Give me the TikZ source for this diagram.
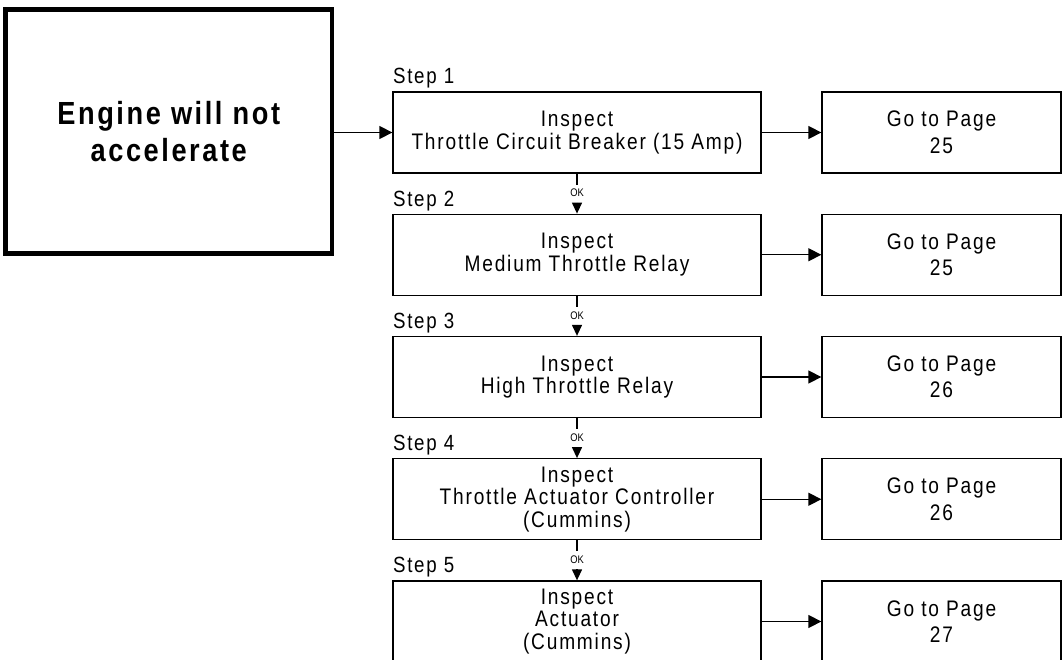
\documentclass[tikz,border=0pt]{standalone}
\usepackage{fontspec}
\setmainfont{Liberation Sans}
\newfontfamily\stepfont{Liberation Sans}[FakeStretch=0.85, LetterSpace=8]
\newfontfamily\bigfont{Liberation Sans}[FakeStretch=0.85, LetterSpace=8]
\newfontfamily\okfont{Liberation Sans}[FakeStretch=0.85]
\usetikzlibrary{arrows.meta,calc}
\tikzset{
  stepbox/.style={draw, line width=1.3pt, minimum width=368pt, minimum height=81pt, inner sep=0pt, align=center, font=\stepfont\fontsize{22.5}{22.5}\selectfont},
  gobox/.style={draw, line width=1.3pt, minimum width=239pt, minimum height=81pt, inner sep=0pt, align=center, font=\stepfont\fontsize{22.5}{26.5}\selectfont},
  bigbox/.style={draw, line width=4.5pt, minimum width=326.5pt, minimum height=244pt, inner sep=0pt, align=center, font=\bigfont\bfseries\fontsize{32}{37.5}\selectfont},
  steplabel/.style={anchor=base west, inner sep=0pt, font=\stepfont\fontsize{22}{22}\selectfont},
  oklabel/.style={inner sep=0pt, font=\okfont\fontsize{11}{11}\selectfont},
  harrow/.style={line width=1.3pt, -{Triangle[length=13pt,width=13pt]}},
  varrow/.style={line width=1.3pt, -{Triangle[length=11pt,width=10pt]}},
  vline/.style={line width=1.3pt}
}
\begin{document}
\begin{tikzpicture}[x=1pt,y=-1pt]
\useasboundingbox (0,0) rectangle (1062,660);
\clip (0,0) rectangle (1062,660);
\node[bigbox] (big) at (168.75,131.5) {Engine will not\\accelerate};

\node[stepbox] (s1) at (577,132.5) {Inspect\\Throttle Circuit Breaker (15 Amp)};
\node[stepbox] (s2) at (577,254.75) {Inspect\\Medium Throttle Relay};
\node[stepbox] (s3) at (577,377) {Inspect\\High Throttle Relay};
\node[stepbox] (s4) at (577,499.25) {Inspect\\Throttle Actuator Controller\\(Cummins)};
\node[stepbox] (s5) at (577,621.5) {Inspect\\Actuator\\(Cummins)};

\node[gobox] (g1) at (941.5,132.5) {Go to Page\\25};
\node[gobox] (g2) at (941.5,254.75) {Go to Page\\25};
\node[gobox] (g3) at (941.5,377) {Go to Page\\26};
\node[gobox] (g4) at (941.5,499.25) {Go to Page\\26};
\node[gobox] (g5) at (941.5,621.5) {Go to Page\\27};

\foreach \i in {1,...,5} {
  \node[steplabel] (l\i) at ($(s\i.north west)+(0.5,-7.5)$) {Step \i};
  \draw[harrow] (s\i.east) -- (g\i.west);
}

\draw[harrow] (s1.west -| big.east) -- (s1.west);

\foreach \a/\b in {1/2,2/3,3/4,4/5} {
  \coordinate (c\a) at ($(s\a.south)+(0,11)$);
  \draw[vline] (s\a.south) -- (c\a);
  \node[oklabel] (ok\a) at ($(s\a.south)+(0,19.5)$) {OK};
  \coordinate (t\b) at ($(s\b.north)+(0,-11)$);
  \draw[varrow] (t\b) -- (s\b.north);
}
\end{tikzpicture}
\end{document}
